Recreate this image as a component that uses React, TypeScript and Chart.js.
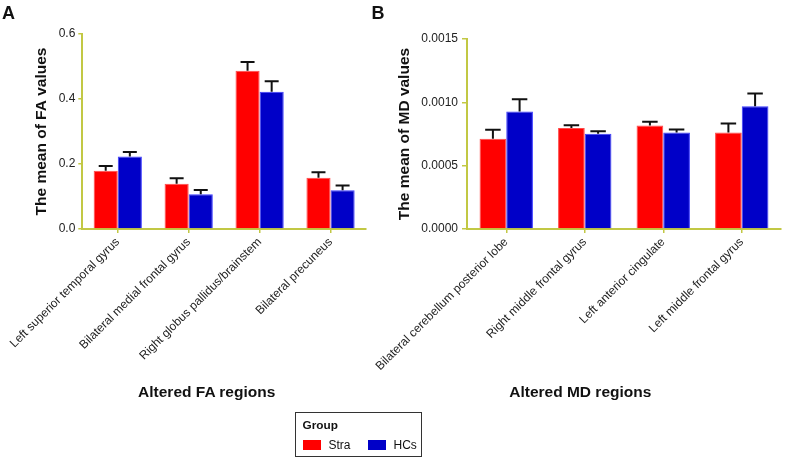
import { useEffect, useRef } from "react";
import { Chart, registerables } from "chart.js";

Chart.register(...registerables);

const FONT = '"Liberation Sans", Arial, Helvetica, sans-serif';
const AXIS_COLOR = "#c2c844";
const STRA_COLOR = "#ff0000";
const HCS_COLOR = "#0000c8";

// Panel A: fractional anisotropy
const faRegions = [
  "Left superior temporal gyrus",
  "Bilateral medial frontal gyrus",
  "Right globus pallidus/brainstem",
  "Bilateral precuneus",
];
const faStra = [0.179, 0.139, 0.487, 0.158];
const faStraErr = [0.015, 0.017, 0.027, 0.017];
const faHCs = [0.223, 0.107, 0.422, 0.119];
const faHCsErr = [0.014, 0.013, 0.033, 0.015];
const faTicks = [0, 0.2, 0.4, 0.6];

// Panel B: mean diffusivity
const mdRegions = [
  "Bilateral cerebellum posterior lobe",
  "Right middle frontal gyrus",
  "Left anterior cingulate",
  "Left middle frontal gyrus",
];
const mdStra = [0.000712, 0.000798, 0.000817, 0.000761];
const mdStraErr = [0.000071, 0.000022, 0.000029, 0.000071];
const mdHCs = [0.000927, 0.000751, 0.000761, 0.000969];
const mdHCsErr = [0.000098, 0.000021, 0.000024, 0.0001];
const mdTicks = [0, 0.0005, 0.001, 0.0015];

const groupNames = ["Stra", "HCs"];

// Draws mean + SEM whiskers (upper half only) on top of each bar
const errorBarPlugin = {
  id: "errorBars",
  afterDatasetsDraw(chart: any) {
    const ctx = chart.ctx;
    const yScale = chart.scales.y;
    chart.data.datasets.forEach((ds: any, i: number) => {
      const errs: number[] | undefined = ds.errors;
      if (!errs) return;
      const meta = chart.getDatasetMeta(i);
      meta.data.forEach((bar: any, j: number) => {
        const { x, y, width } = bar.getProps(["x", "y", "width"], true);
        const top = yScale.getPixelForValue(ds.data[j] + errs[j]);
        const cap = width * 0.58;
        ctx.save();
        ctx.strokeStyle = "#111";
        ctx.lineWidth = 2;
        ctx.beginPath();
        ctx.moveTo(x, y);
        ctx.lineTo(x, top);
        ctx.moveTo(x - cap / 2, top);
        ctx.lineTo(x + cap / 2, top);
        ctx.stroke();
        ctx.restore();
      });
    });
  },
};

type PanelSpec = {
  labels: string[];
  stra: number[];
  straErr: number[];
  hcs: number[];
  hcsErr: number[];
  ticks: number[];
  decimals: number;
  yTitle: string;
  pad: { left: number; right: number; top: number };
  yWidth: number;
  xHeight: number;
  titleOffset: number;
  tickLen: number;
  tickPad: number;
};

function buildConfig(p: PanelSpec): any {
  const yMax = p.ticks[p.ticks.length - 1];
  const step = p.ticks[1] - p.ticks[0];
  return {
    type: "bar",
    data: {
      labels: p.labels,
      datasets: [
        {
          label: groupNames[0],
          data: p.stra,
          errors: p.straErr,
          backgroundColor: STRA_COLOR,
          borderColor: "#ff4a4a",
          borderWidth: 1,
        },
        {
          label: groupNames[1],
          data: p.hcs,
          errors: p.hcsErr,
          backgroundColor: HCS_COLOR,
          borderColor: "#3c3cff",
          borderWidth: 1,
        },
      ],
    },
    options: {
      responsive: false,
      animation: false,
      devicePixelRatio: 1,
      datasets: { bar: { categoryPercentage: 0.68, barPercentage: 1 } },
      layout: { padding: { left: p.pad.left, right: p.pad.right, top: p.pad.top, bottom: 0 } },
      plugins: { legend: { display: false }, tooltip: { enabled: false } },
      scales: {
        x: {
          grid: {
            display: true,
            drawOnChartArea: false,
            drawTicks: true,
            tickLength: 4,
            offset: false,
            color: AXIS_COLOR,
            lineWidth: 1.5,
          },
          border: { display: true, color: AXIS_COLOR, width: 2 },
          ticks: {
            autoSkip: false,
            minRotation: 45,
            maxRotation: 45,
            padding: 2,
            color: "#222",
            font: { family: FONT, size: 12 },
          },
          afterFit: (s: any) => {
            s.height = p.xHeight;
          },
        },
        y: {
          min: 0,
          max: yMax,
          grid: {
            display: true,
            drawOnChartArea: false,
            drawTicks: true,
            tickLength: p.tickLen,
            color: AXIS_COLOR,
            lineWidth: 1.5,
          },
          border: { display: true, color: AXIS_COLOR, width: 2 },
          ticks: {
            stepSize: step,
            padding: p.tickPad,
            color: "#222",
            font: { family: FONT, size: 12 },
            callback: (v: any) => Number(v).toFixed(p.decimals),
          },
          title: {
            display: true,
            text: p.yTitle,
            color: "#111",
            font: { family: FONT, size: 15.5, weight: "bold" },
            padding: { top: p.titleOffset, bottom: 0 },
          },
          afterFit: (s: any) => {
            s.width = p.yWidth;
          },
        },
      },
    },
    plugins: [errorBarPlugin],
  };
}

const panelA: PanelSpec = {
  labels: faRegions,
  stra: faStra,
  straErr: faStraErr,
  hcs: faHCs,
  hcsErr: faHCsErr,
  ticks: faTicks,
  decimals: 1,
  yTitle: "The mean of FA values",
  pad: { left: 0, right: 788 - 366, top: 34 },
  yWidth: 81,
  xHeight: 235,
  titleOffset: 31.5,
  tickLen: 4,
  tickPad: 3,
};

const panelB: PanelSpec = {
  labels: mdRegions,
  stra: mdStra,
  straErr: mdStraErr,
  hcs: mdHCs,
  hcsErr: mdHCsErr,
  ticks: mdTicks,
  decimals: 4,
  yTitle: "The mean of MD values",
  pad: { left: 385, right: 7, top: 39 },
  yWidth: 82,
  xHeight: 235,
  titleOffset: 10,
  tickLen: 5,
  tickPad: 4,
};

function ChartCanvas({ spec }: { spec: PanelSpec }) {
  const ref = useRef<HTMLCanvasElement | null>(null);
  useEffect(() => {
    if (!ref.current) return;
    const chart = new Chart(ref.current, buildConfig(spec));
    return () => chart.destroy();
  }, [spec]);
  return (
    <canvas
      ref={ref}
      width={788}
      height={464}
      style={{ position: "absolute", left: 0, top: 0, width: 788, height: 464 }}
    />
  );
}

const letterStyle: any = {
  position: "absolute",
  top: 3.8,
  fontSize: 18,
  lineHeight: "18px",
  fontWeight: "bold",
  color: "#111",
};

const xTitleStyle: any = {
  position: "absolute",
  top: 384.4,
  width: 220,
  textAlign: "center",
  fontSize: 15.5,
  lineHeight: "16px",
  fontWeight: "bold",
  color: "#111",
};

export default function App() {
  return (
    <div
      style={{
        position: "absolute",
        left: 0,
        top: 0,
        width: 788,
        height: 464,
        background: "#fff",
        fontFamily: FONT,
        overflow: "hidden",
      }}
    >
      <ChartCanvas spec={panelA} />
      <ChartCanvas spec={panelB} />
      <div style={{ ...letterStyle, left: 2 }}>A</div>
      <div style={{ ...letterStyle, left: 371.5 }}>B</div>
      <div style={{ ...xTitleStyle, left: 206.7 - 110 }}>Altered FA regions</div>
      <div style={{ ...xTitleStyle, left: 580.3 - 110 }}>Altered MD regions</div>
      <div
        style={{
          position: "absolute",
          left: 295,
          top: 412,
          width: 125,
          height: 43,
          border: "1px solid #333",
          fontSize: 12,
          color: "#111",
        }}
      >
        <div style={{ position: "absolute", left: 6.5, top: 4.5, lineHeight: "14px", fontWeight: "bold", fontSize: 11.8 }}>
          Group
        </div>
        <div style={{ position: "absolute", left: 6.5, top: 26.5, width: 18.5, height: 10, background: STRA_COLOR }} />
        <div style={{ position: "absolute", left: 32.5, top: 24.5, lineHeight: "14px" }}>{groupNames[0]}</div>
        <div style={{ position: "absolute", left: 71.5, top: 26.5, width: 18.5, height: 10, background: HCS_COLOR }} />
        <div style={{ position: "absolute", left: 97.5, top: 24.5, lineHeight: "14px" }}>{groupNames[1]}</div>
      </div>
    </div>
  );
}
